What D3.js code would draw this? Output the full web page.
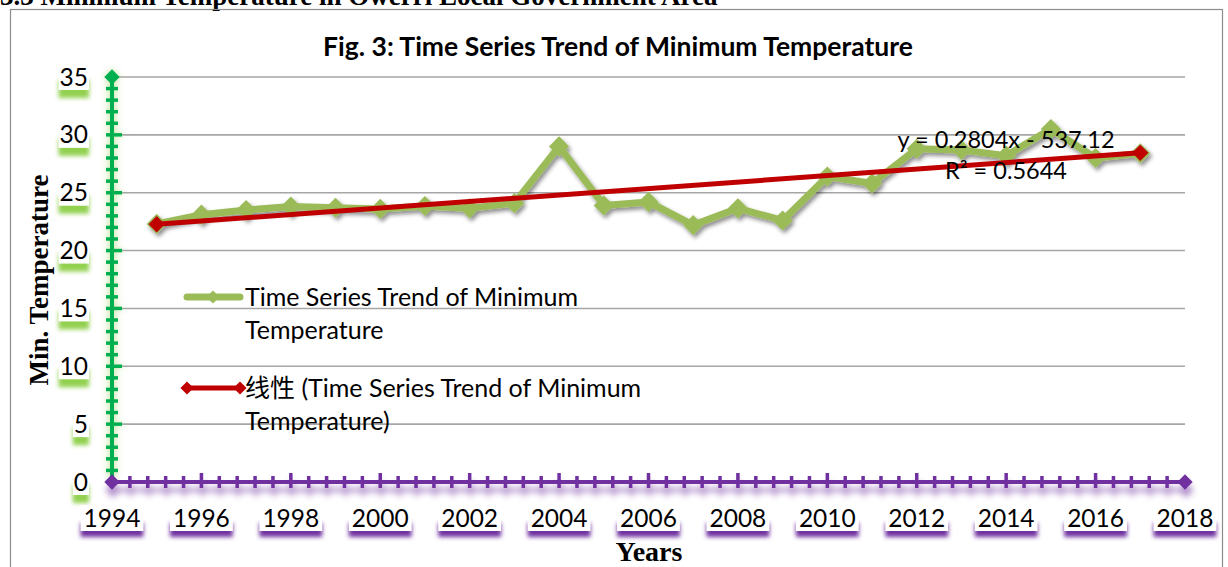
<!DOCTYPE html>
<html>
<head>
<meta charset="utf-8">
<script src="https://cdn.jsdelivr.net/npm/d3@7"></script>
<style>
  body { margin: 0; background: #fff; }
  svg { display: block; }
</style>
</head>
<body>
<div id="chart"></div>
<script>
// Minimum temperature, Owerri
const years = [1995, 1996, 1997, 1998, 1999, 2000, 2001, 2002, 2003, 2004, 2005, 2006,
  2007, 2008, 2009, 2010, 2011, 2012, 2013, 2014, 2015, 2016, 2017];
const minTemp = [22.3, 23.1, 23.5, 23.8, 23.7, 23.6, 23.85, 23.65, 24.1, 29.0, 23.9, 24.2,
  22.2, 23.65, 22.6, 26.4, 25.8, 28.8, 28.7, 28.2, 30.5, 28.0, 28.4];

// linear trend as printed on the chart: y = 0.2804x - 537.12
const trendCoef = [0.2804, -537.12];
const trendText = ["y = 0.2804x - 537.12", "R² = 0.5644"];

const yTicks = [0, 5, 10, 15, 20, 25, 30, 35];
const xTickLabels = [1994, 1996, 1998, 2000, 2002, 2004, 2006, 2008, 2010, 2012, 2014, 2016, 2018];

const sans = "Lato, 'Noto Sans CJK SC', sans-serif";
const serif = "'Liberation Serif', 'DejaVu Serif', serif";

const width = 1228, height = 567;
const svg = d3.select("#chart").append("svg")
  .attr("width", width)
  .attr("height", height);

const defs = svg.append("defs");
function blurFilter(id, sd) {
  defs.append("filter").attr("id", id)
    .attr("x", "-50%").attr("y", "-50%").attr("width", "200%").attr("height", "200%")
    .append("feGaussianBlur").attr("stdDeviation", sd);
}
blurFilter("blur2", 2);
blurFilter("blur3", 3);
const ds = defs.append("filter").attr("id", "shadow")
  .attr("x", "-20%").attr("y", "-20%").attr("width", "140%").attr("height", "140%");
ds.append("feDropShadow").attr("dx", 2).attr("dy", 3).attr("stdDeviation", 2)
  .attr("flood-color", "#000").attr("flood-opacity", 0.45);

// page heading cut off at the top
svg.append("text")
  .attr("x", 0).attr("y", 5)
  .attr("font-family", serif).attr("font-weight", "bold").attr("font-size", 27)
  .text("3.3 Minimum Temperature in Owerri Local Government Area");

// chart border
svg.append("rect")
  .attr("x", 10.5).attr("y", 9.5)
  .attr("width", 1212).attr("height", 600)
  .attr("fill", "none").attr("stroke", "#8c8c8c").attr("stroke-width", 1.2);

const x = d3.scaleLinear().domain([1994, 2018]).range([112, 1185]);
const y = d3.scaleLinear().domain([0, 35]).range([482, 77]);

const diamond = d3.symbol().type(d3.symbolDiamond2);

// title
svg.append("text")
  .attr("x", 618).attr("y", 56)
  .attr("text-anchor", "middle")
  .attr("font-family", sans).attr("font-weight", "bold").attr("font-size", 26.5)
  .text("Fig. 3: Time Series Trend of Minimum Temperature");

// gridlines
svg.append("g")
  .selectAll("line")
  .data(yTicks.filter(d => d > 0))
  .join("line")
  .attr("x1", x(1994)).attr("x2", x(2018))
  .attr("y1", d => y(d)).attr("y2", d => y(d))
  .attr("stroke", "#a6a6a6").attr("stroke-width", 1.6);

// ---- y axis (green, glowing) ----
const yAxis = svg.append("g");
const yMinor = d3.range(0, 36);
function drawYAxis(g, color) {
  g.append("line")
    .attr("x1", x(1994)).attr("x2", x(1994))
    .attr("y1", y(0)).attr("y2", y(35))
    .attr("stroke", color).attr("stroke-width", 4);
  g.selectAll(".tk")
    .data(yMinor.slice(1, -1))
    .join("line")
    .attr("x1", x(1994) - 6)
    .attr("x2", d => x(1994) + (d % 5 === 0 ? 10 : 6))
    .attr("y1", d => y(d)).attr("y2", d => y(d))
    .attr("stroke", color).attr("stroke-width", 3.5);
  g.append("path")
    .attr("d", diamond.size(150)())
    .attr("transform", `translate(${x(1994)},${y(35)})`)
    .attr("fill", color);
}
drawYAxis(yAxis.append("g").attr("filter", "url(#blur3)").attr("opacity", 0.6), "#92D050");
drawYAxis(yAxis.append("g"), "#00B050");

// y tick labels with white box and green shadow
const yLab = svg.append("g");
yTicks.forEach(v => {
  const g = yLab.append("g");
  const t = g.append("text")
    .attr("x", 88).attr("y", y(v))
    .attr("dy", "0.35em")
    .attr("text-anchor", "end")
    .attr("font-family", sans).attr("font-size", 24.5)
    .text(v);
  const w = t.node().getComputedTextLength();
  g.insert("rect", "text")
    .attr("x", 88 - w - 1).attr("y", y(v) + 3)
    .attr("width", w + 2).attr("height", 18)
    .attr("fill", "#92D050").attr("filter", "url(#blur2)");
  g.insert("rect", "text")
    .attr("x", 88 - w - 1).attr("y", y(v) - 13)
    .attr("width", w + 2).attr("height", 26)
    .attr("fill", "#fff");
});

// ---- x axis (purple with shadow) ----
const xMinor = d3.range(0, 61).map(i => 1994 + i * 0.4);
function drawXAxis(g, color) {
  g.append("line")
    .attr("x1", x(1994)).attr("x2", x(2018))
    .attr("y1", y(0)).attr("y2", y(0))
    .attr("stroke", color).attr("stroke-width", 4);
  g.selectAll(".tk")
    .data(xMinor.slice(1, -1))
    .join("line")
    .attr("x1", d => x(d)).attr("x2", d => x(d))
    .attr("y1", (d, i) => y(0) - ((i + 1) % 5 === 0 ? 9 : 6))
    .attr("y2", y(0) + 6)
    .attr("stroke", color).attr("stroke-width", 3.5);
  g.selectAll(".end")
    .data([1994, 2018])
    .join("path")
    .attr("d", diamond.size(150)())
    .attr("transform", d => `translate(${x(d)},${y(0)})`)
    .attr("fill", color);
}
drawXAxis(svg.append("g").attr("transform", "translate(1,8)")
  .attr("filter", "url(#blur3)").attr("opacity", 0.55), "#7030A0");
drawXAxis(svg.append("g"), "#7030A0");

// x tick labels with white box and purple shadow
const xLab = svg.append("g");
xTickLabels.forEach(v => {
  const g = xLab.append("g");
  const t = g.append("text")
    .attr("x", x(v)).attr("y", 518)
    .attr("dy", "0.35em")
    .attr("text-anchor", "middle")
    .attr("font-family", sans).attr("font-size", 24.5)
    .text(v);
  const w = t.node().getComputedTextLength();
  g.insert("rect", "text")
    .attr("x", x(v) - w / 2 - 3).attr("y", 523)
    .attr("width", w + 6).attr("height", 14)
    .attr("fill", "#7030A0").attr("filter", "url(#blur2)");
  g.insert("rect", "text")
    .attr("x", x(v) - w / 2 - 3).attr("y", 505)
    .attr("width", w + 6).attr("height", 26)
    .attr("fill", "#fff");
});

// axis titles
svg.append("text")
  .attr("transform", `translate(48,280) rotate(-90)`)
  .attr("text-anchor", "middle")
  .attr("font-family", serif).attr("font-weight", "bold").attr("font-size", 27)
  .text("Min. Temperature");
svg.append("text")
  .attr("x", 649).attr("y", 561)
  .attr("text-anchor", "middle")
  .attr("font-family", serif).attr("font-weight", "bold").attr("font-size", 28)
  .text("Years");

// ---- series ----
const series = years.map((yr, i) => ({ yr, v: minTemp[i] }));
const line = d3.line().x(d => x(d.yr)).y(d => y(d.v));

const sg = svg.append("g").attr("filter", "url(#shadow)");
sg.append("path")
  .datum(series)
  .attr("fill", "none")
  .attr("stroke", "#9BBB59")
  .attr("stroke-width", 7)
  .attr("stroke-linejoin", "round")
  .attr("d", line);
sg.selectAll(".pt")
  .data(series)
  .join("path")
  .attr("d", diamond.size(260)())
  .attr("transform", d => `translate(${x(d.yr)},${y(d.v)})`)
  .attr("fill", "#9BBB59");

// trend line
const tEnds = [years[0], years[years.length - 1]].map(yr => ({ yr, v: trendCoef[0] * yr + trendCoef[1] }));
svg.append("path")
  .datum(tEnds)
  .attr("fill", "none")
  .attr("stroke", "#C00000")
  .attr("stroke-width", 5)
  .attr("d", line);
svg.selectAll(".tp")
  .data(tEnds)
  .join("path")
  .attr("d", diamond.size(170)())
  .attr("transform", d => `translate(${x(d.yr)},${y(d.v)})`)
  .attr("fill", "#C00000");

// equation label
svg.append("g").selectAll("text")
  .data(trendText)
  .join("text")
  .attr("x", 1006)
  .attr("y", (d, i) => 140 + i * 31)
  .attr("dy", "0.35em")
  .attr("text-anchor", "middle")
  .attr("font-family", sans).attr("font-size", 23.5)
  .text(d => d);

// ---- legend ----
const leg = svg.append("g");
leg.append("line")
  .attr("x1", 187).attr("x2", 240).attr("y1", 297).attr("y2", 297)
  .attr("stroke", "#9BBB59").attr("stroke-width", 7).attr("stroke-linecap", "round");
leg.append("path")
  .attr("d", diamond.size(110)())
  .attr("transform", "translate(213,297)")
  .attr("fill", "#9BBB59");
leg.append("line")
  .attr("x1", 187).attr("x2", 240).attr("y1", 388).attr("y2", 388)
  .attr("stroke", "#C00000").attr("stroke-width", 5);
leg.selectAll(".ld")
  .data([187, 240])
  .join("path")
  .attr("d", diamond.size(110)())
  .attr("transform", d => `translate(${d},388)`)
  .attr("fill", "#C00000");

const legText = [
  ["Time Series Trend of Minimum", "Temperature"],
  ["线性 (Time Series Trend of Minimum", "Temperature)"]
];
[297, 388].forEach((ly, k) => {
  leg.append("g").selectAll("text")
    .data(legText[k])
    .join("text")
    .attr("x", 245)
    .attr("y", (d, i) => ly + i * 33)
    .attr("dy", "0.35em")
    .attr("font-family", sans).attr("font-size", 25)
    .text(d => d);
});
</script>
</body>
</html>
